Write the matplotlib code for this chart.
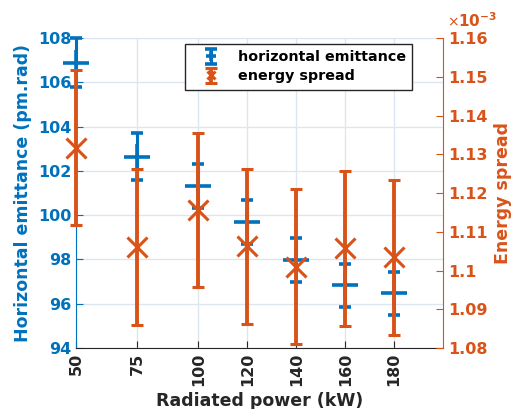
import numpy as np
import matplotlib
matplotlib.use("Agg")
import matplotlib.pyplot as plt
from matplotlib.ticker import FuncFormatter

BLUE = "#0072BD"
ORANGE = "#D95319"
DARK = "#262626"

power_kw = [50, 75, 100, 120, 140, 160, 180]

emittance = [106.88, 102.64, 101.32, 99.70, 97.97, 96.84, 96.47]
emittance_err = [1.10, 1.05, 1.00, 1.00, 0.98, 0.97, 0.96]

# energy spread in units of 1e-3
spread_e3 = [1.1317, 1.1061, 1.1156, 1.1063, 1.1010, 1.1057, 1.1034]
spread_err_e3 = [0.0200, 0.0201, 0.0199, 0.0200, 0.0200, 0.0199, 0.0200]

plt.rcParams["font.family"] = "DejaVu Sans"
plt.rcParams["font.weight"] = "bold"

fig = plt.figure(figsize=(5.11, 4.09), dpi=100)
ax = fig.add_axes([0.149, 0.149, 0.718, 0.758])
ax2 = ax.twinx()

h1 = ax.errorbar(power_kw, emittance, yerr=emittance_err, fmt="+", color=BLUE,
                 markersize=19, markeredgewidth=2.6, elinewidth=2.2,
                 capsize=4, capthick=3, label="horizontal emittance", zorder=3)
h2 = ax2.errorbar(power_kw, spread_e3, yerr=spread_err_e3, fmt="x", color=ORANGE,
                  markersize=15, markeredgewidth=2.2, elinewidth=2.8,
                  capsize=4, capthick=3, label="energy spread", zorder=3)
for h in (h1, h2):
    h[0].set_clip_on(False)
    for art in list(h[1]) + list(h[2]):
        art.set_clip_on(False)

ax.set_xlim(50, 200)
ax.set_ylim(94, 108)
ax.set_yticks(np.arange(94, 109, 2))
ax.set_xticks(power_kw)
ax.set_xticklabels([str(p) for p in power_kw], rotation=90)
ax2.set_ylim(1.08, 1.16)
ax2.set_yticks(np.arange(1.08, 1.1601, 0.01))
ax2.yaxis.set_major_formatter(FuncFormatter(lambda v, _: f"{round(v, 2):g}"))

ax.grid(True, color="#dde6f0", linewidth=1)
ax.set_axisbelow(True)

ax.tick_params(axis="y", colors=BLUE, direction="in", labelsize=11.5, length=5)
ax.tick_params(axis="x", colors=DARK, direction="in", labelsize=11.5, length=5)
ax2.tick_params(axis="y", colors=ORANGE, direction="in", labelsize=11.5, length=5)
for lab in ax.get_xticklabels() + ax.get_yticklabels() + ax2.get_yticklabels():
    lab.set_fontweight("bold")

for a in (ax, ax2):
    a.spines["top"].set_visible(False)
ax.spines["left"].set_color(BLUE)
ax.spines["bottom"].set_color(DARK)
ax.spines["right"].set_visible(False)
ax2.spines["left"].set_visible(False)
ax2.spines["bottom"].set_visible(False)
ax2.spines["right"].set_color(ORANGE)

ax.set_xlabel("Radiated power (kW)", fontsize=12.5, fontweight="bold", color=DARK)
ax.set_ylabel("Horizontal emittance (pm.rad)", fontsize=12.5, fontweight="bold", color=BLUE)
ax2.set_ylabel("Energy spread", fontsize=12.5, fontweight="bold", color=ORANGE, labelpad=5)

# MATLAB-style exponent label above the right axis
ax2.text(1.012, 1.036, "\u00d7", transform=ax.transAxes, color=ORANGE,
         fontsize=10, fontweight="normal", ha="left", va="baseline")
ax2.text(1.04, 1.036, r"$\mathregular{10^{-3}}$", transform=ax.transAxes,
         color=ORANGE, fontsize=11, ha="left", va="baseline", fontweight="bold")

leg = ax2.legend([h1, h2], ["horizontal emittance", "energy spread"],
                 loc="upper right", bbox_to_anchor=(0.916, 0.981), borderaxespad=0,
                 fancybox=False, edgecolor=DARK, framealpha=1,
                 prop={"weight": "bold", "size": 10.3},
                 borderpad=0.45, handlelength=2.7, handletextpad=0.5,
                 labelspacing=0.35, markerscale=0.35)
leg.get_frame().set_linewidth(1)

fig.savefig("out.png", dpi=100)
